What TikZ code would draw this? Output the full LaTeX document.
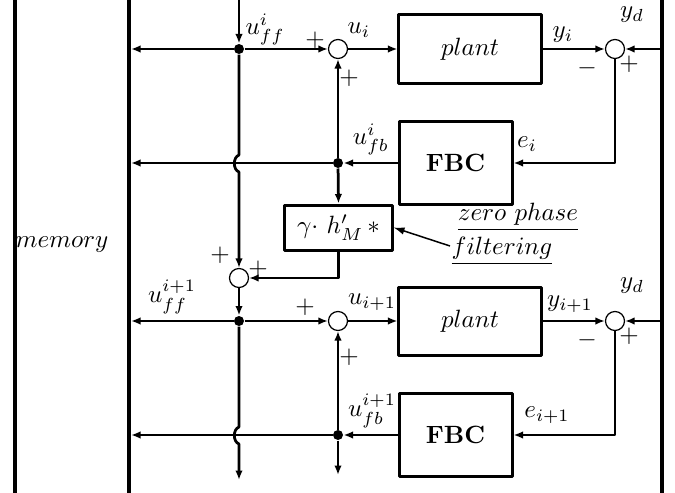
\documentclass[tikz,border=0pt]{standalone}
\usetikzlibrary{arrows.meta}

\begin{document}
\begin{tikzpicture}[
  x=0.4pt,
  y=-0.4pt,
  line join=round,
  sig/.style={draw=black,line width=1.1pt,-{Latex[length=3.8pt,width=3pt]}},
  pointer/.style={draw=black,line width=0.6pt,-{Latex[length=4.4pt,width=3pt]}},
  wall/.style={draw=black,line width=1.5pt},
  block/.style={draw=black,line width=1.2pt,inner sep=0pt},
  summer/.style={draw=black,line width=0.5pt,circle,minimum size=7.6pt,inner sep=0pt},
  junction/.style={fill=black,circle,minimum size=4pt,inner sep=0pt},
  lbl/.style={inner sep=0pt}
]
  \useasboundingbox (0,0) rectangle (675,493);

  % Memory walls and the reference signal bus.
  \coordinate (memLeftTop) at (15,0);   \coordinate (memLeftBot) at (15,493);
  \coordinate (memRightTop) at (129,0); \coordinate (memRightBot) at (129,493);
  \coordinate (refTop) at (662,0);      \coordinate (refBot) at (662,493);
  \draw[wall] (memLeftTop) -- (memLeftBot);
  \draw[wall] (memRightTop) -- (memRightBot);
  \draw[wall] (refTop) -- (refBot);
  \node[lbl] (memory) at (62,245) {$memory$};

  % Iteration i: blocks, summing points and junctions.
  \node[block,minimum width=56.8pt,minimum height=27.2pt] (plantA) at (470,49) {$plant$};
  \node[block,minimum width=45.2pt,minimum height=33.2pt] (fbcA) at (455.5,163) {\textbf{FBC}};
  \node[summer] (sumA) at (338,49) {};
  \node[summer] (errA) at (615,49) {};
  \node[junction] (ffA) at (239,49) {};
  \node[junction] (fbA) at (338,163) {};

  % Learning update between the two iterations.
  \node[block,minimum width=42.8pt,minimum height=18pt] (filt) at (338.5,227.5) {$\gamma{\cdot}\ h'_M\,*$};
  \node[summer] (sumC) at (239,278) {};

  % Iteration i+1.
  \node[block,minimum width=56.8pt,minimum height=27.2pt] (plantB) at (470,321) {$plant$};
  \node[block,minimum width=45.2pt,minimum height=33.2pt] (fbcB) at (455.5,435) {\textbf{FBC}};
  \node[summer] (sumB) at (338,321) {};
  \node[summer] (errB) at (615,321) {};
  \node[junction] (ffB) at (239,321) {};
  \node[junction] (fbB) at (338,435) {};

  % Free ends on the walls and the wire hops.
  \coordinate (ffTop) at (239,0);
  \coordinate (memFfA) at (131,49);  \coordinate (memFbA) at (131,163);
  \coordinate (memFfB) at (131,321); \coordinate (memFbB) at (131,435);
  \coordinate (refA) at (662,49);    \coordinate (refB) at (662,321);
  \coordinate (hopAt) at (239,155);  \coordinate (hopAb) at (239,172);
  \coordinate (hopBt) at (239,427);  \coordinate (hopBb) at (239,444);
  \coordinate (ffEnd) at (239,480);  \coordinate (fbEnd) at (338,475);

  % Loop of iteration i.
  \draw[sig] (ffTop) -- (ffA);
  \draw[sig] (ffA) -- (memFfA);
  \draw[sig] (ffA) -- (sumA.west);
  \draw[sig] (sumA.east) -- (plantA.west);
  \draw[sig] (plantA.east) -- (errA.west);
  \draw[sig] (refA) -- (errA.east);
  \draw[sig] (errA.south) |- (fbcA.east);
  \draw[sig] (fbcA.west) -- (fbA);
  \draw[sig] (fbA) -- (sumA.south);
  \draw[sig] (fbA) -- (memFbA);

  % Filtered feedback is added to the stored feedforward.
  \draw[sig] (fbA) -- (filt.north);
  \draw[sig] (filt.south) |- (sumC.east);
  \draw[sig] (ffA) -- (hopAt) to[bend right=70] (hopAb) -- (sumC.north);
  \draw[sig] (sumC.south) -- (ffB);

  % Loop of iteration i+1.
  \draw[sig] (ffB) -- (memFfB);
  \draw[sig] (ffB) -- (sumB.west);
  \draw[sig] (sumB.east) -- (plantB.west);
  \draw[sig] (plantB.east) -- (errB.west);
  \draw[sig] (refB) -- (errB.east);
  \draw[sig] (errB.south) |- (fbcB.east);
  \draw[sig] (fbcB.west) -- (fbB);
  \draw[sig] (fbB) -- (sumB.south);
  \draw[sig] (fbB) -- (memFbB);
  \draw[sig] (fbB) -- (fbEnd);
  \draw[sig] (ffB) -- (hopBt) to[bend right=70] (hopBb) -- (ffEnd);

  % Signal names and signs, iteration i.
  \node[lbl] (uffA) at (265,29) {$u^{i}_{ff}$};
  \node[lbl] (pA1) at (315,40) {$+$};
  \node[lbl] (uA) at (359,30) {$u_i$};
  \node[lbl] (pA2) at (349,78) {$+$};
  \node[lbl] (yA) at (563,35) {$y_i$};
  \node[lbl] (ydA) at (632,15) {$y_d$};
  \node[lbl] (mA) at (587,68) {$-$};
  \node[lbl] (pA3) at (629,64) {$+$};
  \node[lbl] (eA) at (527,144) {$e_i$};
  \node[lbl] (ufbA) at (371,139) {$u^{i}_{fb}$};

  % Update signs and annotation.
  \node[lbl] (pC1) at (220,255) {$+$};
  \node[lbl] (pC2) at (258,269) {$+$};
  \node[lbl] (zero) at (518,217) {$\underline{zero\ phase}$};
  \node[lbl] (filtering) at (502,251) {$\underline{filtering}$};
  \coordinate (zpTail) at (450,246);
  \draw[pointer] (zpTail) -- (filt.east);

  % Signal names and signs, iteration i+1.
  \node[lbl] (uffB) at (172,297) {$u^{i+1}_{ff}$};
  \node[lbl] (pB1) at (305,307) {$+$};
  \node[lbl] (uB) at (372,302) {$u_{i+1}$};
  \node[lbl] (pB2) at (349,357) {$+$};
  \node[lbl] (yB) at (570,304) {$y_{i+1}$};
  \node[lbl] (ydB) at (632,286) {$y_d$};
  \node[lbl] (mB) at (587,340) {$-$};
  \node[lbl] (pB3) at (629,336) {$+$};
  \node[lbl] (eB) at (547,415) {$e_{i+1}$};
  \node[lbl] (ufbB) at (372,411) {$u^{i+1}_{fb}$};
\end{tikzpicture}
\end{document}
